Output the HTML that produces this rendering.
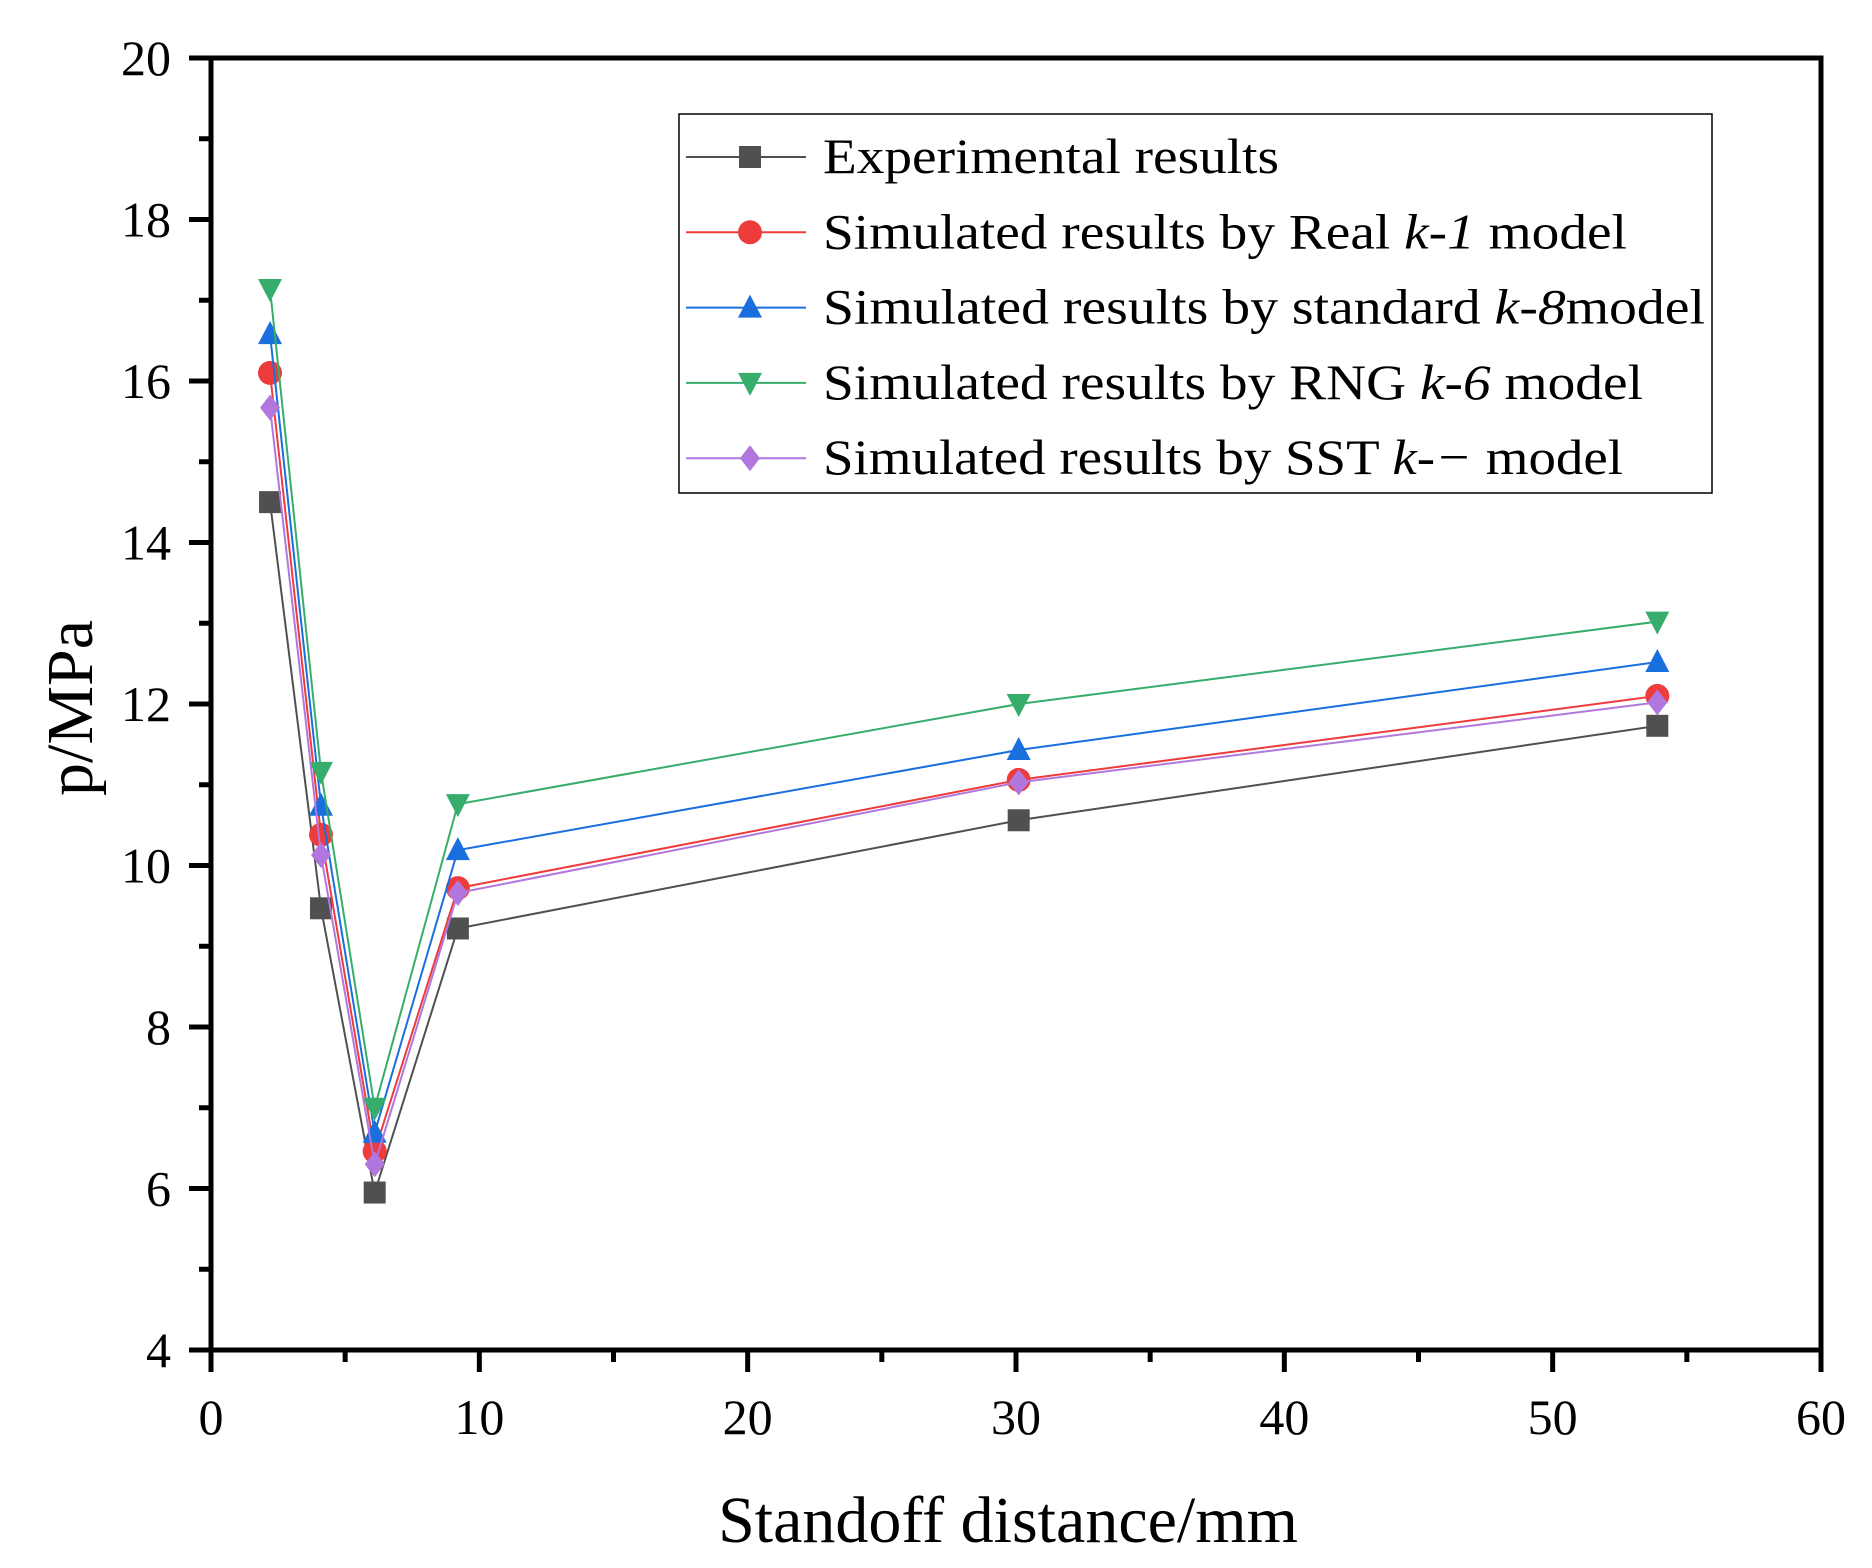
<!DOCTYPE html>
<html><head><meta charset="utf-8"><style>
html,body{margin:0;padding:0;background:#fff}
svg{display:block}
text{font-family:"Liberation Serif",serif;fill:#000}
</style></head><body>
<svg id="chart" width="1872" height="1568" viewBox="0 0 1872 1568" xmlns="http://www.w3.org/2000/svg">
<g id="axes"></g><g id="series"></g><g id="legend"></g>
</svg>
<script>
const xValues = [2.2, 4.1, 6.1, 9.2, 30.1, 53.9];
const expValues = [14.5, 9.47, 5.95, 9.22, 10.56, 11.73];
const realValues = [16.1, 10.38, 6.46, 9.72, 11.06, 12.1];
const stdValues = [16.58, 10.74, 6.69, 10.19, 11.43, 12.52];
const rngValues = [17.14, 11.16, 7.0, 10.76, 12.0, 13.02];
const sstValues = [15.67, 10.13, 6.3, 9.66, 11.03, 12.02];
const xTicks = [0, 10, 20, 30, 40, 50, 60];
const yTicks = [4, 6, 8, 10, 12, 14, 16, 18, 20];
const legendPre = ["Experimental results","Simulated results by  Real ","Simulated results by  standard ","Simulated results by  RNG ","Simulated results by  SST "];
const legendK = ["","k","k","k","k"];
const legendSym = ["","-1","-8","-6","-\u2212"];
const legendPost = [""," model","model"," model"," model"];

const NS="http://www.w3.org/2000/svg";
const L=211,R=1821,T=58,B=1350;
const xs=v=>L+(v-0)/(60-0)*(R-L);
const ys=v=>B-(v-4)/(20-4)*(B-T);
function mk(tag,attrs,parent){const e=document.createElementNS(NS,tag);for(const k in attrs)e.setAttribute(k,attrs[k]);parent.appendChild(e);return e;}
const axes=document.getElementById('axes');
let fr=mk('rect',{x:L,y:T,width:R-L,height:B-T,fill:'none',stroke:'#000','stroke-width':5},axes);


xTicks.forEach(v=>{
  const x=xs(v);
  const t=mk('line',{x1:x,y1:B,x2:x,y2:B+22,stroke:'#000','stroke-width':5},axes);
  
  
  if(v<60){const m=mk('line',{x1:xs(v+5),y1:B,x2:xs(v+5),y2:B+12,stroke:'#000','stroke-width':5},axes);
  
  }
  const lb=mk('text',{x:x,y:B+84,'font-size':50,'text-anchor':'middle'},axes);lb.textContent=v;
  
  
});
yTicks.forEach(v=>{
  const y=ys(v);
  const t=mk('line',{x1:L-22,y1:y,x2:L,y2:y,stroke:'#000','stroke-width':5},axes);
  
  
  if(v<20){const m=mk('line',{x1:L-12,y1:ys(v+1),x2:L,y2:ys(v+1),stroke:'#000','stroke-width':5},axes);
  
  }
  const lb=mk('text',{x:L-40,y:y+17,'font-size':50,'text-anchor':'end'},axes);lb.textContent=v;
  
  
});
const xt=mk('text',{x:(L+R)/2-8,y:1542,'font-size':66,'text-anchor':'middle'},axes);xt.textContent='Standoff distance/mm';


const yt=mk('text',{x:0,y:0,'font-size':66,'text-anchor':'middle',transform:'translate(92,708) rotate(-90)'},axes);yt.textContent='p/MPa';



const colors=['#505050','#ee3b3b','#1a6fdf','#37ad6b','#b177de'];
const shapes=['square','circle','tri-up','tri-down','diamond'];
const allSeries=[expValues,realValues,stdValues,rngValues,sstValues];
function marker(shape,x,y,c,parent){
  const s=11;let e;
  if(shape==='square')e=mk('rect',{x:x-s,y:y-s,width:2*s,height:2*s,fill:c},parent);
  else if(shape==='circle')e=mk('circle',{cx:x,cy:y,r:s+1,fill:c},parent);
  else if(shape==='tri-up')e=mk('polygon',{points:`${x},${y-s-2} ${x+s+1},${y+s-1} ${x-s-1},${y+s-1}`,fill:c},parent);
  else if(shape==='tri-down')e=mk('polygon',{points:`${x},${y+s+2} ${x+s+1},${y-s+1} ${x-s-1},${y-s+1}`,fill:c},parent);
  else e=mk('polygon',{points:`${x},${y-s-2} ${x+s-1},${y} ${x},${y+s+2} ${x-s+1},${y}`,fill:c},parent);
  return e;
}
const sg=document.getElementById('series');
allSeries.forEach((vals,i)=>{
  const g=mk('g',{},sg);
  
  
  const pts=vals.map((v,j)=>xs(xValues[j])+','+ys(v)).join(' ');
  const pl=mk('polyline',{points:pts,fill:'none',stroke:colors[i],'stroke-width':2},g);
  
  
  vals.forEach((v,j)=>{const m=marker(shapes[i],xs(xValues[j]),ys(v),colors[i],g);
    
    });
});
const lg=document.getElementById('legend');
const lb=mk('rect',{x:679,y:114,width:1033,height:379,fill:'#fff',stroke:'#000','stroke-width':1.5},lg);


const lens=[456,804,882,820,800];
legendPre.forEach((lab,i)=>{
  const y=157+i*75.3;
  const g=mk('g',{},lg);
  
  
  mk('line',{x1:686,y1:y,x2:806,y2:y,stroke:colors[i],'stroke-width':2},g);
  marker(shapes[i],750,y,colors[i],g);
  const t=mk('text',{x:823,y:y+16,'font-size':50,textLength:lens[i],lengthAdjust:'spacingAndGlyphs'},g);
  t.appendChild(document.createTextNode(lab));
  if(legendK[i]){
    const k=mk('tspan',{'font-style':'italic'},t);k.textContent=legendK[i];
    const s=mk('tspan',{'font-style':'italic'},t);s.textContent=legendSym[i];
    t.appendChild(document.createTextNode(legendPost[i]));
  }
});
</script>
</body></html>
